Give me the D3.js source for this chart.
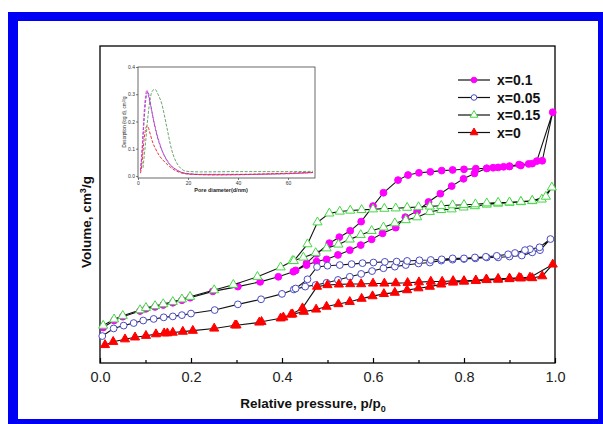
<!DOCTYPE html>
<html>
<head>
<meta charset="utf-8">
<script src="https://cdn.jsdelivr.net/npm/d3@7"></script>
<style>
  html, body { margin: 0; padding: 0; background: #fff; }
  svg { display: block; font-family: "Liberation Sans", Arial, sans-serif; }
</style>
</head>
<body>
<svg id="chart" width="603" height="424"></svg>
<script>
// ---- isotherm data: [p/p0, volume (arb. units)] ----
const adsX01 = [[0.007,11.2],[0.031,13.4],[0.05,14.6],[0.088,16.4],[0.101,17.1],[0.121,17.7],[0.139,18.3],[0.16,19.0],[0.18,19.8],[0.198,20.6],[0.248,22.6],[0.303,24.1],[0.352,25.6],[0.392,27.2],[0.425,28.8],[0.454,30.9],[0.476,32.0],[0.498,32.7],[0.523,34.1],[0.549,35.6],[0.573,37.2],[0.597,39.0],[0.621,40.9],[0.65,42.7],[0.671,46.0],[0.697,47.9],[0.722,50.8],[0.748,53.4],[0.773,55.8],[0.799,58.1],[0.823,59.8],[0.85,61.4],[0.875,61.7],[0.9,62.0],[0.925,62.3],[0.95,62.9],[0.972,63.8],[0.995,79.1]];
const desX01 = [[0.96,63.7],[0.942,62.8],[0.921,62.6],[0.9,62.1],[0.887,61.9],[0.864,61.6],[0.85,61.4],[0.826,61.3],[0.8,61.1],[0.775,60.9],[0.751,60.7],[0.726,60.3],[0.701,60.0],[0.677,59.3],[0.655,57.7],[0.623,53.7],[0.6,49.5],[0.574,44.6],[0.55,41.7],[0.526,39.7],[0.504,37.8],[0.476,34.4],[0.454,31.5],[0.43,29.2]];

const adsX005 = [[0.005,8.5],[0.03,10.9],[0.052,11.8],[0.074,12.6],[0.095,13.4],[0.118,13.9],[0.14,14.4],[0.16,14.7],[0.18,15.1],[0.2,15.6],[0.252,16.7],[0.303,18.5],[0.354,20.1],[0.4,21.8],[0.426,23.2],[0.451,24.1],[0.474,24.6],[0.498,25.3],[0.523,26.2],[0.549,27.2],[0.574,28.1],[0.598,29.0],[0.623,29.9],[0.648,30.4],[0.672,30.9],[0.7,31.4],[0.725,31.7],[0.75,32.3],[0.775,32.6],[0.8,32.8],[0.825,33.0],[0.85,33.3],[0.875,33.3],[0.9,33.6],[0.927,33.9],[0.95,34.9],[0.967,35.6],[0.99,39.1]];
const desX005 = [[0.966,36.5],[0.945,35.9],[0.934,35.6],[0.912,34.7],[0.897,34.3],[0.872,33.8],[0.848,33.5],[0.824,33.3],[0.8,33.0],[0.775,33.0],[0.751,32.7],[0.727,32.5],[0.702,32.4],[0.675,32.2],[0.652,32.0],[0.626,31.9],[0.601,31.7],[0.577,31.5],[0.553,31.2],[0.527,30.9],[0.5,30.7],[0.477,30.3],[0.456,26.4],[0.43,23.5]];

const adsX015 = [[0.007,11.8],[0.031,13.8],[0.05,14.9],[0.088,16.7],[0.101,17.4],[0.121,18.0],[0.139,18.6],[0.16,19.3],[0.18,20.1],[0.198,20.9],[0.251,23.0],[0.293,24.7],[0.346,27.2],[0.397,30.2],[0.423,32.2],[0.447,33.3],[0.474,34.7],[0.498,36.2],[0.524,37.4],[0.549,39.0],[0.573,40.4],[0.597,41.7],[0.623,42.8],[0.648,44.1],[0.672,45.1],[0.697,46.0],[0.725,47.7],[0.75,48.3],[0.773,48.5],[0.799,49.1],[0.824,49.5],[0.85,50.0],[0.875,50.3],[0.9,50.6],[0.925,50.8],[0.95,51.1],[0.971,51.6],[0.993,55.4]];
const desX015 = [[0.98,52.5],[0.95,51.2],[0.925,50.9],[0.9,50.7],[0.875,50.6],[0.85,50.4],[0.825,50.1],[0.8,49.9],[0.775,49.8],[0.75,49.6],[0.725,49.4],[0.7,49.2],[0.675,49.0],[0.65,48.8],[0.625,48.7],[0.6,48.5],[0.575,48.3],[0.55,48.1],[0.527,47.8],[0.504,47.2],[0.478,44.4],[0.456,37.5],[0.426,32.2]];

const adsX0 = [[0.011,5.7],[0.029,6.7],[0.055,7.5],[0.077,8.1],[0.101,8.6],[0.123,9.1],[0.141,9.4],[0.148,9.4],[0.16,9.6],[0.182,9.9],[0.204,10.2],[0.251,10.9],[0.297,11.9],[0.30,11.9],[0.35,12.8],[0.355,13.0],[0.397,14.1],[0.403,14.4],[0.423,15.4],[0.448,16.2],[0.475,16.9],[0.498,17.8],[0.524,18.6],[0.549,19.3],[0.575,20.3],[0.599,21.1],[0.624,21.8],[0.648,22.2],[0.675,23.0],[0.7,23.6],[0.725,24.1],[0.75,24.8],[0.776,25.4],[0.8,25.7],[0.826,25.9],[0.85,26.2],[0.875,26.3],[0.9,26.5],[0.925,26.7],[0.95,26.8],[0.972,27.4],[0.995,31.1]];
const desX0 = [[0.945,27.0],[0.921,26.9],[0.9,26.7],[0.875,26.6],[0.849,26.4],[0.826,26.1],[0.8,25.9],[0.776,25.9],[0.752,25.7],[0.727,25.7],[0.701,25.5],[0.676,25.3],[0.65,25.2],[0.625,25.1],[0.6,25.1],[0.574,24.9],[0.55,24.9],[0.525,24.8],[0.5,24.6],[0.477,24.1],[0.445,17.3],[0.42,15.3]];

const seriesNames = ['x=0.1', 'x=0.05', 'x=0.15', 'x=0'];
const xTickValues = [0, 0.2, 0.4, 0.6, 0.8, 1.0];
const xMinorTicks = [0.1, 0.3, 0.5, 0.7, 0.9];

// ---- inset pore size distribution: [d / nm, dV/dlog d] ----
const psdX01 = [[1,0.02],[1.5,0.08],[2,0.16],[2.5,0.24],[3,0.29],[3.5,0.315],[4,0.30],[5,0.26],[6,0.215],[7,0.175],[8,0.14],[9,0.11],[10,0.085],[11.5,0.06],[13,0.04],[15.5,0.022],[19.5,0.008],[25,0.005],[35,0.004],[50,0.006],[60,0.008],[70,0.012]];
const psdX005 = [[1,0.02],[1.5,0.07],[2,0.14],[2.5,0.21],[3,0.27],[3.5,0.30],[4,0.31],[4.5,0.29],[5.5,0.24],[7,0.17],[8.5,0.12],[10,0.085],[12,0.05],[15,0.025],[19,0.01],[25,0.006],[40,0.006],[60,0.009],[70,0.013]];
const psdX015 = [[2,0.03],[3,0.12],[4,0.22],[5,0.29],[6,0.315],[6.8,0.318],[8,0.3],[9.5,0.265],[11.5,0.18],[13.5,0.095],[16,0.04],[19.5,0.017],[25,0.015],[40,0.016],[60,0.016],[70,0.017]];
const psdX0 = [[1,0.01],[1.5,0.04],[2,0.09],[2.5,0.14],[3,0.17],[3.5,0.183],[4,0.18],[5,0.15],[6,0.12],[7,0.1],[8.5,0.075],[10,0.058],[12,0.04],[14,0.025],[17,0.012],[20,0.007],[30,0.004],[45,0.006],[60,0.01],[70,0.013]];
const insetXTicks = [0, 20, 40, 60];
const insetYTicks = [0, 0.1, 0.2, 0.3, 0.4];

const svg = d3.select('#chart');

// blue frame round the figure
svg.append('rect').attr('x', 8).attr('y', 12).attr('width', 595).attr('height', 412).attr('fill', '#0000f5');
svg.append('rect').attr('x', 18).attr('y', 21).attr('width', 580).attr('height', 398).attr('fill', '#fff');

const plot = { left: 100, right: 555, top: 46, bottom: 363 };

const x = d3.scaleLinear().domain([0, 1]).range([plot.left, plot.right]);
const y = d3.scaleLinear().domain([0, 100]).range([plot.bottom, plot.top]);

// axes
const xAxis = d3.axisBottom(x)
    .tickValues(xTickValues)
    .tickFormat(d3.format('.1f'))
    .tickSizeInner(-5)
    .tickSizeOuter(0)
    .tickPadding(9);

const xAxisGroup = svg.append('g')
    .attr('transform', `translate(0, ${plot.bottom})`)
    .call(xAxis);
xAxisGroup.select('.domain').remove();
xAxisGroup.selectAll('line').attr('stroke', '#000').attr('stroke-width', 1.2);
xAxisGroup.selectAll('text')
    .attr('font-size', '14.5px')
    .attr('fill', '#222')
    .attr('font-family', '"Liberation Sans", Arial, sans-serif');

const minorAxis = svg.append('g')
    .attr('transform', `translate(0, ${plot.bottom})`)
    .call(d3.axisBottom(x).tickValues(xMinorTicks).tickSizeInner(-3).tickSizeOuter(0).tickFormat(''));
minorAxis.select('.domain').remove();
minorAxis.selectAll('line').attr('stroke', '#000').attr('stroke-width', 1.2);

// frame
svg.append('rect')
    .attr('x', plot.left).attr('y', plot.top)
    .attr('width', plot.right - plot.left).attr('height', plot.bottom - plot.top)
    .attr('fill', 'none').attr('stroke', '#000').attr('stroke-width', 1.3);

// axis titles
const xTitle = svg.append('text')
    .attr('x', 313).attr('y', 408)
    .attr('text-anchor', 'middle')
    .attr('font-size', '13.5px').attr('font-weight', 'bold').attr('fill', '#111');
xTitle.append('tspan').text('Relative pressure, p/p');
xTitle.append('tspan').attr('dy', 4).attr('font-size', '9px').text('0');

const yTitle = svg.append('text')
    .attr('transform', 'translate(91, 222) rotate(-90)')
    .attr('text-anchor', 'middle')
    .attr('font-size', '13.5px').attr('font-weight', 'bold').attr('fill', '#111');
yTitle.append('tspan').text('Volume, cm');
yTitle.append('tspan').attr('dy', -5).attr('font-size', '9px').text('3');
yTitle.append('tspan').attr('dy', 5).text('/g');

// series styles
const styles = [
    { name: seriesNames[0], ads: adsX01, des: desX01, shape: 'circle', fill: '#ff00ff', stroke: '#ff00ff' },
    { name: seriesNames[1], ads: adsX005, des: desX005, shape: 'circle', fill: '#fff', stroke: '#4a4ac4' },
    { name: seriesNames[2], ads: adsX015, des: desX015, shape: 'triangle', fill: '#fff', stroke: '#44d844' },
    { name: seriesNames[3], ads: adsX0, des: desX0, shape: 'triangle', fill: '#ff0000', stroke: '#ff0000' }
];

const line = d3.line().x(d => x(d[0])).y(d => y(d[1]));

const drawMarker = (g, s, cx, cy, small) => {
    if (s.shape === 'circle') {
        g.append('circle')
            .attr('cx', cx).attr('cy', cy).attr('r', small ? 2.8 : 3.4)
            .attr('fill', s.fill).attr('stroke', s.stroke).attr('stroke-width', 1);
    } else {
        g.append('path')
            .attr('d', d3.symbol().type(d3.symbolTriangle).size(small ? 26 : 36)())
            .attr('transform', `translate(${cx}, ${cy})`)
            .attr('fill', s.fill).attr('stroke', s.stroke).attr('stroke-width', 1);
    }
};

styles.forEach(s => {
    const g = svg.append('g');
    g.append('path')
        .datum(s.ads.concat(s.des))
        .attr('d', line)
        .attr('fill', 'none')
        .attr('stroke', '#111')
        .attr('stroke-width', 1.1);
    s.ads.concat(s.des).forEach(d => drawMarker(g, s, x(d[0]), y(d[1]), false));
});

// legend
const legend = svg.append('g');
styles.forEach((s, i) => {
    const ly = 80 + i * 17.5;
    legend.append('line')
        .attr('x1', 458).attr('x2', 490).attr('y1', ly).attr('y2', ly)
        .attr('stroke', '#111').attr('stroke-width', 1.2);
    drawMarker(legend, s, 474, ly, true);
    legend.append('text')
        .attr('x', 497).attr('y', ly + 5)
        .attr('font-size', '14px').attr('font-weight', 'bold').attr('fill', '#111')
        .text(s.name);
});

// ---- inset ----
const inset = { left: 138, right: 315, top: 67, bottom: 178 };
const ix = d3.scaleLinear().domain([0, 70.8]).range([inset.left, inset.right]);
const iy = d3.scaleLinear().domain([-0.0075, 0.4]).range([inset.bottom, inset.top]);

const insetG = svg.append('g');
insetG.append('rect')
    .attr('x', inset.left).attr('y', inset.top)
    .attr('width', inset.right - inset.left).attr('height', inset.bottom - inset.top)
    .attr('fill', '#fff').attr('stroke', '#444').attr('stroke-width', 0.8);

const ixAxis = insetG.append('g')
    .attr('transform', `translate(0, ${inset.bottom})`)
    .call(d3.axisBottom(ix).tickValues(insetXTicks).tickSizeInner(2).tickSizeOuter(0).tickPadding(1));
const iyAxis = insetG.append('g')
    .attr('transform', `translate(${inset.left}, 0)`)
    .call(d3.axisLeft(iy).tickValues(insetYTicks).tickFormat(d3.format('.1f')).tickSizeInner(2).tickSizeOuter(0).tickPadding(1));
[ixAxis, iyAxis].forEach(a => {
    a.select('.domain').remove();
    a.selectAll('line').attr('stroke', '#444').attr('stroke-width', 0.7);
    a.selectAll('text').attr('font-size', '5px').attr('fill', '#333');
});

const insetLine = d3.line().curve(d3.curveMonotoneX).x(d => ix(d[0])).y(d => iy(d[1]));
const psdSeries = [
    { data: psdX015, color: '#5a9a5a' },
    { data: psdX005, color: '#6050a8' },
    { data: psdX01, color: '#e030e0' },
    { data: psdX0, color: '#e82020' }
];
psdSeries.forEach(s => {
    insetG.append('path')
        .datum(s.data)
        .attr('d', insetLine)
        .attr('fill', 'none')
        .attr('stroke', s.color)
        .attr('stroke-width', 0.9)
        .attr('stroke-dasharray', '3,1.5');
});

insetG.append('text')
    .attr('x', 221).attr('y', 191.5)
    .attr('text-anchor', 'middle')
    .attr('font-size', '5.5px').attr('font-weight', 'bold').attr('fill', '#222')
    .text('Pore diameter(d/nm)');

const iyTitle = insetG.append('text')
    .attr('transform', 'translate(126, 122) rotate(-90)')
    .attr('text-anchor', 'middle')
    .attr('font-size', '4.6px').attr('fill', '#222');
iyTitle.append('tspan').text('Desorption (log d), cm');
iyTitle.append('tspan').attr('dy', -1.5).attr('font-size', '3.5px').text('3');
iyTitle.append('tspan').attr('dy', 1.5).text('/g');
</script>
</body>
</html>
